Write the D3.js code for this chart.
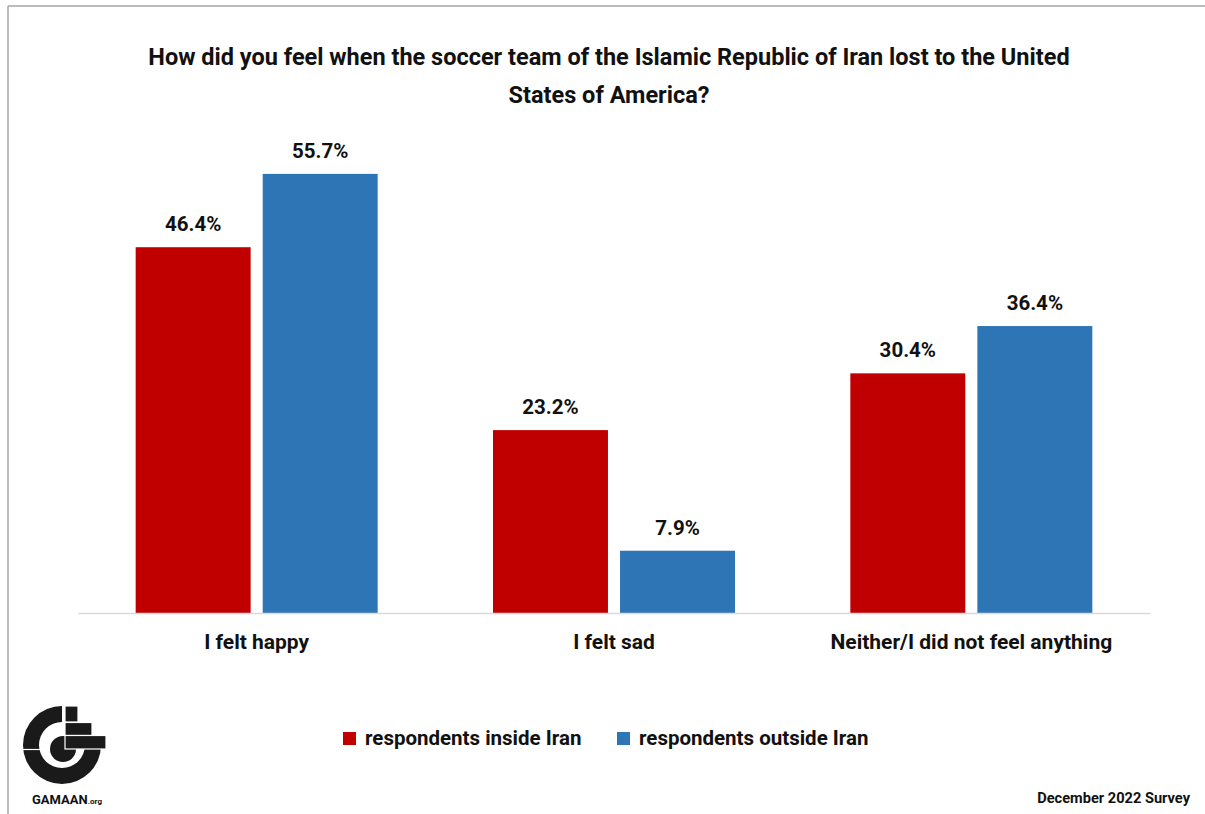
<!DOCTYPE html>
<html>
<head>
<meta charset="utf-8">
<script src="https://cdn.jsdelivr.net/npm/d3@7"></script>
<style>
  html, body { margin: 0; padding: 0; background: #fff; }
  svg { display: block; }
  text { font-family: Roboto, "Noto Sans", Arial, sans-serif; font-weight: 700; fill: #111; }
</style>
</head>
<body>
<svg id="chart" width="1205" height="814"></svg>
<script>
// Survey answers and shares (%)
const categories = ["I felt happy", "I felt sad", "Neither/I did not feel anything"];
const seriesNames = ["respondents inside Iran", "respondents outside Iran"];
const insideIran = [46.4, 23.2, 30.4];
const outsideIran = [55.7, 7.9, 36.4];
const seriesColors = ["#C00000", "#2E75B6"];
const titleLines = [
  "How did you feel when the soccer team of the Islamic Republic of Iran lost to the United",
  "States of America?"
];
const footnote = "December 2022 Survey";

const values = [insideIran, outsideIran];
const rows = categories.map((c, i) => ({
  category: c,
  bars: seriesNames.map((s, j) => ({ series: s, value: values[j][i], color: seriesColors[j] }))
}));

const svg = d3.select("#chart");
const W = 1205, H = 814;

// frame lines
svg.append("line").attr("x1", 8).attr("x2", W).attr("y1", 6).attr("y2", 6)
  .attr("stroke", "#a6a6a6").attr("stroke-width", 1.5);
svg.append("line").attr("x1", 8).attr("x2", 8).attr("y1", 6).attr("y2", H)
  .attr("stroke", "#a6a6a6").attr("stroke-width", 1.5);

// title
svg.append("g").selectAll("text").data(titleLines).join("text")
  .attr("x", 609).attr("y", (d, i) => 65 + i * 38)
  .attr("text-anchor", "middle").attr("font-size", 23.5)
  .text(d => d);

// scales
const x0 = d3.scaleBand().domain(categories).range([78, 1150]).paddingInner(0).paddingOuter(0);
const pad = (x0.bandwidth() - 242) / 2;
const x1 = d3.scaleBand().domain(seriesNames).range([pad, x0.bandwidth() - pad]).paddingInner(0.095);
const y = d3.scaleLinear().domain([0, 60]).range([613, 140]);

// bars
const groups = svg.append("g").selectAll("g").data(rows).join("g")
  .attr("transform", d => `translate(${x0(d.category)},0)`);

groups.selectAll("rect").data(d => d.bars).join("rect")
  .attr("x", d => x1(d.series))
  .attr("y", d => y(d.value))
  .attr("width", x1.bandwidth())
  .attr("height", d => y(0) - y(d.value))
  .attr("fill", d => d.color);

groups.selectAll("text.value").data(d => d.bars).join("text")
  .attr("class", "value")
  .attr("x", d => x1(d.series) + x1.bandwidth() / 2)
  .attr("y", d => y(d.value) - 16)
  .attr("text-anchor", "middle").attr("font-size", 20.5)
  .text(d => d.value.toFixed(1) + "%");

// category axis
const xAxis = svg.append("g").attr("transform", `translate(0,${y(0)})`)
  .call(d3.axisBottom(x0).tickSize(0).tickPadding(0));
xAxis.select(".domain").attr("stroke", "#d9d9d9").attr("stroke-width", 1.5);
xAxis.selectAll(".tick text")
  .attr("font-size", 21).attr("font-family", "Roboto, 'Noto Sans', Arial, sans-serif")
  .attr("font-weight", 700).attr("fill", "#111").attr("y", 36).attr("dy", 0);

// legend
const legendX = [343, 617];
const legend = svg.append("g").selectAll("g").data(seriesNames).join("g")
  .attr("transform", (d, i) => `translate(${legendX[i]},737)`);
legend.append("rect").attr("x", 0).attr("y", -5).attr("width", 13).attr("height", 13)
  .attr("fill", (d, i) => seriesColors[i]);
legend.append("text").attr("x", 22).attr("y", 7.5).attr("font-size", 20.5).text(d => d);

// footnote
svg.append("text").attr("x", 1190).attr("y", 803).attr("text-anchor", "end")
  .attr("font-size", 14.6).text(footnote);

// GAMAAN logo
const logo = svg.append("g");
const cx = 62, cy = 745;
logo.append("path")
  .attr("transform", `translate(${cx},${cy})`)
  .attr("d", d3.arc().innerRadius(23).outerRadius(39).startAngle(Math.PI / 2).endAngle(2 * Math.PI)())
  .attr("fill", "#1a1a1a");
logo.append("circle").attr("cx", 63).attr("cy", 749).attr("r", 13).attr("fill", "#1a1a1a");
const blocks = [
  [65, 706, 13, 16],
  [65, 722.5, 27, 13],
  [65, 735.5, 41, 13.5]
];
logo.selectAll("rect").data(blocks).join("rect")
  .attr("x", d => d[0]).attr("y", d => d[1]).attr("width", d => d[2]).attr("height", d => d[3])
  .attr("fill", "#1a1a1a").attr("stroke", "#fff").attr("stroke-width", 1.2);
logo.append("line").attr("x1", 20).attr("x2", 40).attr("y1", 749.5).attr("y2", 749.5)
  .attr("stroke", "#fff").attr("stroke-width", 1.2);
const logoText = svg.append("text").attr("x", 32).attr("y", 804).attr("font-size", 13);
logoText.append("tspan").text("GAMAAN");
logoText.append("tspan").attr("font-size", 8).text(".org");
</script>
</body>
</html>
